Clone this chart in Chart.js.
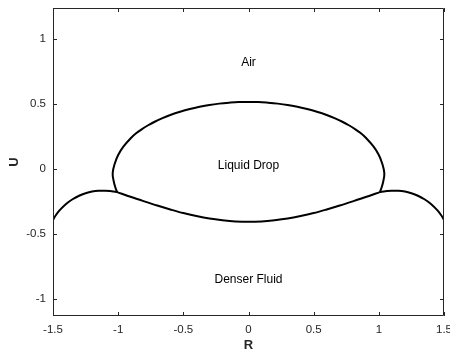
<!DOCTYPE html>
<html>
<head>
<meta charset="utf-8">
<script src="https://cdn.jsdelivr.net/npm/chart.js@4"></script>
<style>
  html, body { margin: 0; padding: 0; background: #fff; }
  #wrap { width: 450px; height: 353px; }
</style>
</head>
<body>
<div id="wrap"><canvas id="chart" width="450" height="353"></canvas></div>
<script>
// values
const xTicks = [-1.5, -1, -0.5, 0, 0.5, 1, 1.5];
const yTicks = [-1, -0.5, 0, 0.5, 1];

const leftCapR = [-1.5, -1.48, -1.45, -1.4, -1.35, -1.3, -1.25, -1.2, -1.15, -1.1, -1.05, -1.008];
const leftCapU = [-0.39, -0.357, -0.318, -0.268, -0.232, -0.205, -0.186, -0.173, -0.167, -0.166, -0.171, -0.177];

const rightCapR = [1.008, 1.05, 1.1, 1.15, 1.2, 1.25, 1.3, 1.35, 1.4, 1.45, 1.48, 1.5];
const rightCapU = [-0.177, -0.171, -0.166, -0.167, -0.173, -0.186, -0.205, -0.232, -0.268, -0.318, -0.357, -0.39];

const dropTopR = [-1.008, -1.022, -1.035, -1.042, -1.025, -1.0, -0.96, -0.9, -0.86, -0.82, -0.77, -0.72, -0.66, -0.6,
                  -0.525, -0.45, -0.375, -0.3, -0.225, -0.15, -0.075, 0,
                  0.075, 0.15, 0.225, 0.3, 0.375, 0.45, 0.525,
                  0.6, 0.66, 0.72, 0.77, 0.82, 0.86, 0.9, 0.96, 1.0, 1.025, 1.042, 1.035, 1.022, 1.008];
const dropTopU = [-0.177, -0.14, -0.09, -0.03, 0.045, 0.108, 0.172, 0.24, 0.276, 0.305, 0.336, 0.363, 0.391, 0.415,
                  0.44, 0.461, 0.478, 0.492, 0.502, 0.509, 0.514, 0.515,
                  0.514, 0.509, 0.502, 0.492, 0.478, 0.461, 0.44,
                  0.415, 0.391, 0.363, 0.336, 0.305, 0.276, 0.24, 0.172, 0.108, 0.045, -0.03, -0.09, -0.14, -0.177];

const dropBottomR = [-1.008, -0.9, -0.8, -0.7, -0.6, -0.5, -0.4, -0.3, -0.2, -0.1, 0, 0.1, 0.2, 0.3, 0.4, 0.5, 0.6, 0.7, 0.8, 0.9, 1.008];
const dropBottomU = [-0.177, -0.215, -0.248, -0.28, -0.31, -0.338, -0.361, -0.38, -0.393, -0.402, -0.405,
                     -0.402, -0.393, -0.38, -0.361, -0.338, -0.31, -0.28, -0.248, -0.215, -0.177];

const labelTexts = ['Air', 'Liquid Drop', 'Denser Fluid'];
const labelR = [0, 0, 0];
const labelU = [0.82, 0.025, -0.85];

const axisColor = '#262626';
const fontFamily = '"Liberation Sans", Arial, sans-serif';

function toPoints(xs, ys) {
    return xs.map((x, i) => ({ x: x, y: ys[i] }));
}

function curve(xs, ys, mode) {
    return {
        data: toPoints(xs, ys),
        showLine: true,
        borderColor: '#000',
        borderWidth: 2,
        pointRadius: 0,
        tension: 0.4,
        cubicInterpolationMode: mode,
        fill: false
    };
}

// MATLAB style box with inward ticks, plus the region labels
const boxPlugin = {
    id: 'box',
    afterDraw(chart) {
        const { ctx, chartArea: a, scales } = chart;
        const len = 4;
        ctx.save();
        ctx.strokeStyle = axisColor;
        ctx.lineWidth = 1;
        ctx.beginPath();
        ctx.rect(a.left + 0.5, a.top + 0.5, a.right - a.left - 1, a.bottom - a.top - 1);
        xTicks.forEach(v => {
            const px = Math.round(scales.x.getPixelForValue(v)) + 0.5;
            ctx.moveTo(px, a.bottom); ctx.lineTo(px, a.bottom - len);
            ctx.moveTo(px, a.top); ctx.lineTo(px, a.top + len);
        });
        yTicks.forEach(v => {
            const py = Math.round(scales.y.getPixelForValue(v)) + 0.5;
            ctx.moveTo(a.left, py); ctx.lineTo(a.left + len, py);
            ctx.moveTo(a.right, py); ctx.lineTo(a.right - len, py);
        });
        ctx.stroke();

        ctx.fillStyle = '#000';
        ctx.font = '12px ' + fontFamily;
        ctx.textAlign = 'center';
        ctx.textBaseline = 'middle';
        labelTexts.forEach((t, i) => {
            ctx.fillText(t, scales.x.getPixelForValue(labelR[i]), scales.y.getPixelForValue(labelU[i]));
        });
        ctx.restore();
    }
};

new Chart(document.getElementById('chart'), {
    type: 'scatter',
    data: {
        datasets: [
            curve(leftCapR, leftCapU, 'monotone'),
            curve(rightCapR, rightCapU, 'monotone'),
            curve(dropTopR, dropTopU, 'default'),
            curve(dropBottomR, dropBottomU, 'monotone')
        ]
    },
    options: {
        responsive: false,
        animation: false,
        layout: { padding: { top: 8, right: 6, left: 0, bottom: 0 } },
        plugins: { legend: { display: false }, tooltip: { enabled: false } },
        scales: {
            x: {
                type: 'linear',
                min: -1.5,
                max: 1.5,
                grid: { display: false, drawTicks: false },
                border: { display: false },
                afterBuildTicks: s => { s.ticks = xTicks.map(v => ({ value: v })); },
                afterFit: s => { s.height = 37; s.paddingLeft = 0; s.paddingRight = 0; },
                ticks: {
                    color: axisColor,
                    font: { family: fontFamily, size: 11.5 },
                    padding: 7,
                    maxRotation: 0,
                    autoSkip: false,
                    callback: v => String(v)
                },
                title: {
                    display: true,
                    text: 'R',
                    color: axisColor,
                    font: { family: fontFamily, size: 13, weight: 'bold' },
                    padding: { top: 0, bottom: 0 }
                }
            },
            y: {
                type: 'linear',
                min: -1.128,
                max: 1.236,
                grid: { display: false, drawTicks: false },
                border: { display: false },
                afterBuildTicks: s => { s.ticks = yTicks.map(v => ({ value: v })); },
                afterFit: s => { s.width = 53; s.paddingTop = 0; s.paddingBottom = 0; },
                ticks: {
                    color: axisColor,
                    font: { family: fontFamily, size: 11.5 },
                    padding: 7,
                    autoSkip: false,
                    callback: v => String(v)
                },
                title: {
                    display: true,
                    text: 'U',
                    color: axisColor,
                    font: { family: fontFamily, size: 13, weight: 'bold' },
                    padding: { top: 7, bottom: 0 }
                }
            }
        }
    },
    plugins: [boxPlugin]
});
</script>
</body>
</html>
